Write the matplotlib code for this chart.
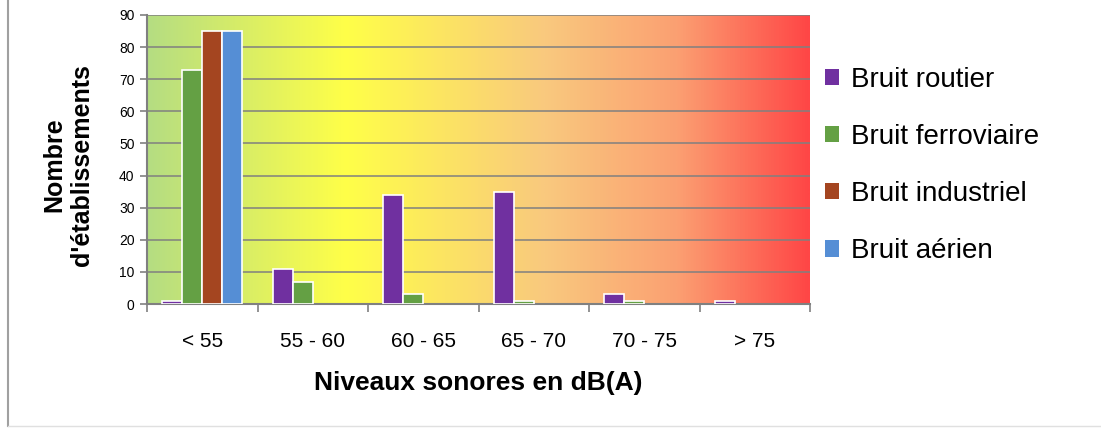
import numpy as np
import matplotlib.pyplot as plt
from matplotlib.colors import LinearSegmentedColormap
from matplotlib.lines import Line2D

plt.rcParams['font.family'] = ['Liberation Sans', 'DejaVu Sans']

# données
categories = ["< 55", "55 - 60", "60 - 65", "65 - 70", "70 - 75", "> 75"]
series = ["Bruit routier", "Bruit ferroviaire", "Bruit industriel", "Bruit aérien"]
routier = [1, 11, 34, 35, 3, 1]
ferroviaire = [73, 7, 3, 1, 1, 0]
industriel = [85, 0, 0, 0, 0, 0]
aerien = [85, 0, 0, 0, 0, 0]
valeurs = [routier, ferroviaire, industriel, aerien]
couleurs = ["#7030a0", "#64a044", "#a44520", "#558ed5"]

fig = plt.figure(figsize=(11.01, 4.28), dpi=100)
ax = fig.add_axes([147 / 1101, 1 - 304 / 428, 663 / 1101, 289 / 428])

# fond en dégradé vert -> jaune -> orange -> rouge
cmap = LinearSegmentedColormap.from_list("fond", [
    (0.0, "#b5dd82"), (0.3, "#ffff48"), (0.6, "#f9c97e"),
    (0.8, "#fba072"), (1.0, "#ff4646")])
grad = np.linspace(0, 1, 512).reshape(1, -1)
ax.imshow(grad, cmap=cmap, aspect="auto", extent=[-0.5, 5.5, 0, 90], zorder=0)

x = np.arange(len(categories))
w = 0.181
barres = []
for i, (vals, c) in enumerate(zip(valeurs, couleurs)):
    b = ax.bar(x + (i - 1.5) * w, vals, width=w, color=c, edgecolor="white",
               linewidth=1.2, zorder=3, label=series[i])
    for p, v in zip(b, vals):
        if v == 0:
            p.set_visible(False)
    barres.append(b)

ax.set_xlim(-0.5, 5.5)
ax.set_ylim(0, 90)
ax.set_yticks(range(0, 91, 10))
ax.yaxis.grid(True, color="#808080", linewidth=1.1, zorder=1)
ax.set_axisbelow(False)
ax.set_xticks(x)
ax.set_xticklabels(categories, fontsize=15)
ax.set_xticks(np.arange(-0.5, 6, 1), minor=True)
ax.tick_params(axis="x", which="major", length=0, pad=20)
ax.tick_params(axis="x", which="minor", length=6, color="#808080", width=1.2)
ax.tick_params(axis="y", labelsize=10, length=5, color="#808080", width=1.2, pad=4)
for s in ["top", "right"]:
    ax.spines[s].set_visible(False)
for s in ["left", "bottom"]:
    ax.spines[s].set_color("#808080")
    ax.spines[s].set_linewidth(1.5)

fig.text(478 / 1101, 1 - 383 / 428, "Niveaux sonores en dB(A)", fontsize=19,
         fontweight="bold", ha="center", va="center")
fig.text(68 / 1101, 1 - 165 / 428, "Nombre\nd'établissements", fontsize=18,
         fontweight="bold", ha="center", va="center", rotation=90,
         linespacing=1.2, multialignment="center")

leg = ax.legend(handles=[b[0] for b in barres], labels=series, loc="upper left",
                bbox_to_anchor=(825 / 1101, 1 - 67 / 428), bbox_transform=fig.transFigure,
                frameon=False, fontsize=20, handlelength=0.52, handleheight=0.52,
                handletextpad=0.4, labelspacing=1.12, borderpad=0, borderaxespad=0)
for h in leg.legend_handles:
    h.set_linewidth(0)

# cadre du graphique
fig.add_artist(Line2D([8 / 1101, 8 / 1101], [0.005, 1], transform=fig.transFigure,
                      color="#a0a0a0", linewidth=1.5))
fig.add_artist(Line2D([8 / 1101, 1], [0.005, 0.005], transform=fig.transFigure,
                      color="#e0e0e0", linewidth=1))

fig.savefig("out.png", dpi=100)
